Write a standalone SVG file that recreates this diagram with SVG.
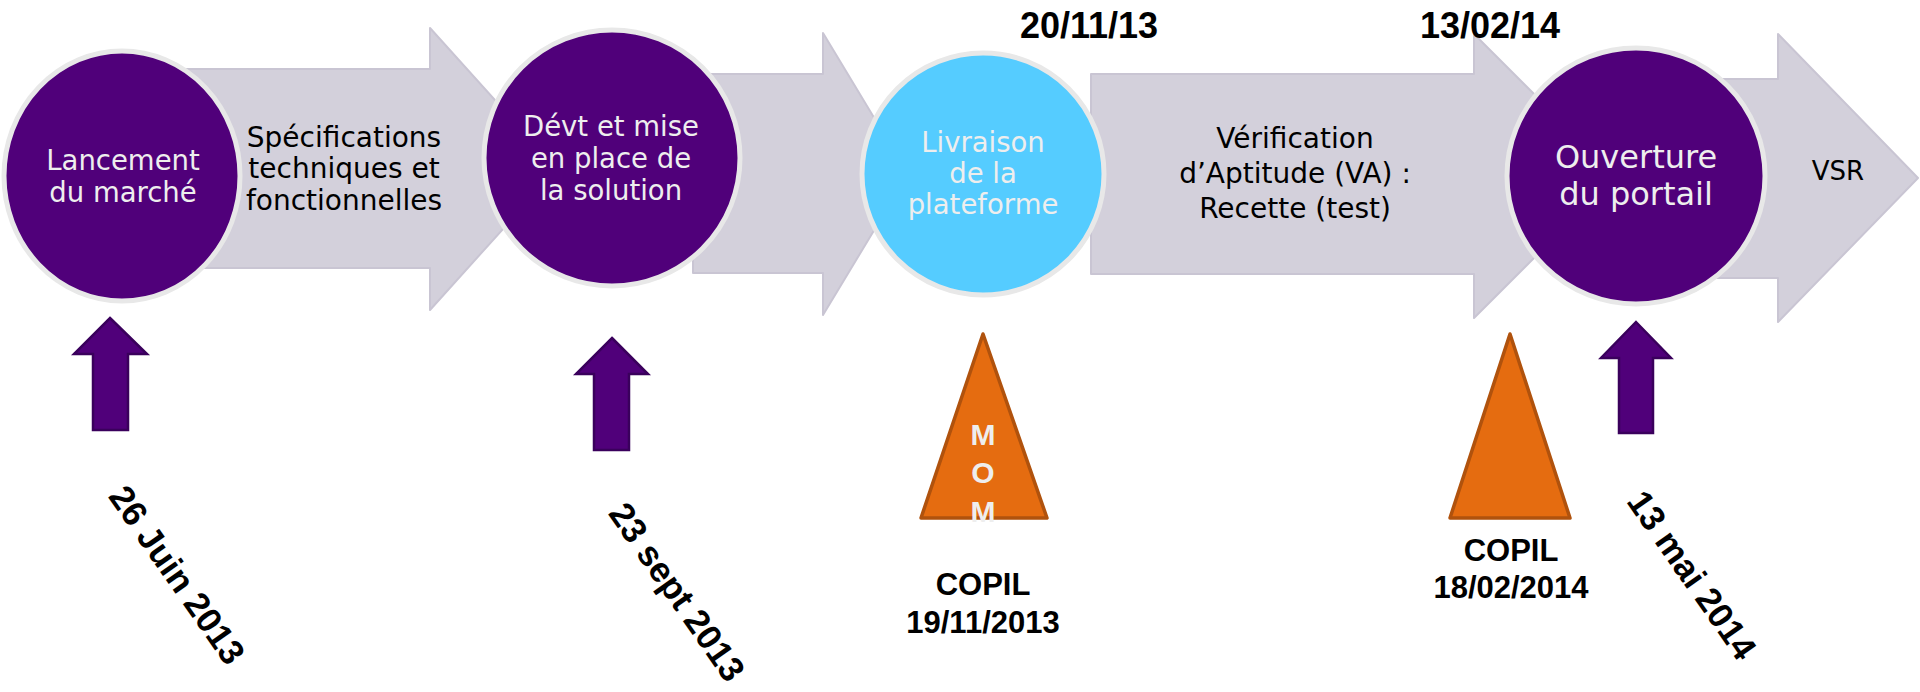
<svg xmlns="http://www.w3.org/2000/svg" width="1920" height="692" viewBox="0 0 1920 692">
<style>
.bg{fill:#ffffff}
.chev{fill:#D3D0DB;stroke:#C9C5D3;stroke-width:2;stroke-linejoin:round}
.circ{stroke:#E8E8E8;stroke-width:5}
.purple{fill:#50007A}
.blue{fill:#55CCFF}
.ctext{font-family:"DejaVu Sans",Verdana,sans-serif;font-size:27.5px;fill:#EEEEEE;text-anchor:middle}
.atext{font-family:"DejaVu Sans",Verdana,sans-serif;font-size:28px;fill:#000000;text-anchor:middle}
.up{fill:#50007A;stroke:#3A005C;stroke-width:2.5}
.tri{fill:#E56C10;stroke:#B0520D;stroke-width:3.5;stroke-linejoin:round}
.bold{font-family:"Liberation Sans",Arial,sans-serif;font-weight:bold;fill:#000000;text-anchor:middle}
.mom{font-family:"Liberation Sans",Arial,sans-serif;font-weight:bold;font-size:30px;fill:#EEEEEE;text-anchor:middle}
</style>
<rect class="bg" x="0" y="0" width="1920" height="692"/>

<g id="connectors">
  <path class="chev" d="M120,69 H430 V28 L557,169 L430,310 V268 H120 Z"/>
  <path class="chev" d="M693,74 H823 V33 L908,174 L823,315 V273 H693 Z"/>
  <path class="chev" d="M1091,74 H1474 V34 L1616,176 L1474,318 V274 H1091 Z"/>
  <path class="chev" d="M1700,79 H1778 V34 L1918,178 L1778,322 V278 H1700 Z"/>
</g>

<g id="label-specifications">
  <text class="atext" x="344" y="147">Spécifications</text>
  <text class="atext" x="344" y="178">techniques et</text>
  <text class="atext" x="344" y="210">fonctionnelles</text>
</g>
<g id="label-verification">
  <text class="atext" x="1295" y="148">Vérification</text>
  <text class="atext" x="1295" y="183">d’Aptitude (VA) :</text>
  <text class="atext" x="1295" y="218">Recette (test)</text>
</g>
<g id="label-vsr">
  <text class="atext" x="1838" y="180" style="font-size:26px">VSR</text>
</g>

<g id="node-lancement">
  <ellipse class="circ purple" cx="122" cy="176" rx="118" ry="125"/>
  <text class="ctext" x="123" y="170">Lancement</text>
  <text class="ctext" x="123" y="202">du marché</text>
</g>
<g id="node-devt">
  <circle class="circ purple" cx="612" cy="158" r="128"/>
  <text class="ctext" x="611" y="136">Dévt et mise</text>
  <text class="ctext" x="611" y="168">en place de</text>
  <text class="ctext" x="611" y="200">la solution</text>
</g>
<g id="node-livraison">
  <circle class="circ blue" cx="983" cy="174" r="121"/>
  <text class="ctext" x="983" y="152">Livraison</text>
  <text class="ctext" x="983" y="183">de la</text>
  <text class="ctext" x="983" y="214">plateforme</text>
</g>
<g id="node-ouverture">
  <ellipse class="circ purple" cx="1636" cy="176" rx="129" ry="128"/>
  <text class="ctext" x="1636" y="168" style="font-size:32px">Ouverture</text>
  <text class="ctext" x="1636" y="205" style="font-size:32px">du portail</text>
</g>

<g id="date-20-11-13">
  <text class="bold" x="1089" y="38" style="font-size:36px">20/11/13</text>
</g>
<g id="date-13-02-14">
  <text class="bold" x="1490" y="38" style="font-size:36px">13/02/14</text>
</g>

<g id="milestone-26-juin">
  <path class="up" d="M110,318 L147,354 H128 V430 H93 V354 H74 Z"/>
  <text class="bold" style="font-size:35px" transform="translate(177,575) rotate(55)" x="0" y="12">26 Juin 2013</text>
</g>
<g id="milestone-23-sept">
  <path class="up" d="M612,338 L648,374 H629 V450 H594 V374 H576 Z"/>
  <text class="bold" style="font-size:35px" transform="translate(677,592) rotate(55)" x="0" y="12">23 sept 2013</text>
</g>
<g id="milestone-13-mai">
  <path class="up" d="M1636,322 L1671,358 H1653 V433 H1619 V358 H1601 Z"/>
  <text class="bold" style="font-size:35px" transform="translate(1692,575) rotate(55)" x="0" y="12">13 mai 2014</text>
</g>

<g id="copil-mom">
  <path class="tri" d="M983,334 L1047,518 L921,518 Z"/>
  <text class="mom" x="983" y="445">M</text>
  <text class="mom" x="983" y="483">O</text>
  <text class="mom" x="983" y="522">M</text>
  <text class="bold" x="983" y="595" style="font-size:31px">COPIL</text>
  <text class="bold" x="983" y="633" style="font-size:31px">19/11/2013</text>
</g>
<g id="copil-2014">
  <path class="tri" d="M1510,334 L1570,518 L1450,518 Z"/>
  <text class="bold" x="1511" y="561" style="font-size:31px">COPIL</text>
  <text class="bold" x="1511" y="598" style="font-size:31px">18/02/2014</text>
</g>
</svg>
